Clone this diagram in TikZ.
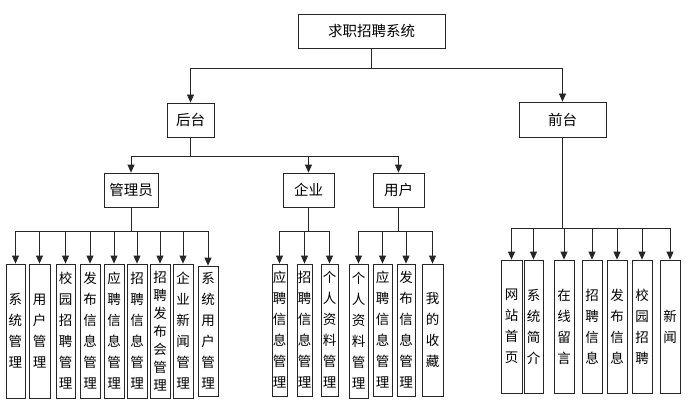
\documentclass[tikz,border=0pt]{standalone}
\usepackage{fontspec}
\newfontfamily\cjk{Noto Sans CJK SC}
\usetikzlibrary{arrows.meta}
\begin{document}
\begin{tikzpicture}[x=1pt,y=-1pt,
 box/.style={draw=black!85, line width=0.8pt, inner sep=0pt, font=\cjk\fontsize{14.5}{18}\selectfont},
 leaf/.style={draw=black!85, line width=0.8pt, inner sep=0pt, align=center, font=\cjk\fontsize{13.5}{21}\selectfont},
 tight/.style={font=\cjk\fontsize{13.5}{18}\selectfont},
 arr/.style={draw=black!85, line width=0.8pt, -{Triangle[length=8pt,width=7pt]}},
]
\useasboundingbox[fill=white] (0,0) rectangle (689,412);
% top levels
\node[box, minimum width=147pt, minimum height=34pt] (root) at (371.5,31) {求职招聘系统};
\node[box, minimum width=47pt, minimum height=34pt] (hou) at (190.5,120) {后台};
\node[box, minimum width=87pt, minimum height=35pt] (qian) at (562.5,119.5) {前台};
\node[box, minimum width=54pt, minimum height=34pt] (admin) at (131,190) {管理员};
\node[box, minimum width=51pt, minimum height=34pt] (ent) at (308.5,190) {企业};
\node[box, minimum width=51pt, minimum height=34pt] (user) at (398.5,190) {用户};
% admin leaves
\node[leaf, minimum width=19pt, minimum height=134pt] (a1) at (15.5,331) {系\\统\\管\\理};
\node[leaf, minimum width=21pt, minimum height=134pt] (a2) at (39.5,331) {用\\户\\管\\理};
\node[leaf, minimum width=19pt, minimum height=134pt] (a3) at (65.5,331) {校\\园\\招\\聘\\管\\理};
\node[leaf, minimum width=20pt, minimum height=134pt] (a4) at (90,331) {发\\布\\信\\息\\管\\理};
\node[leaf, minimum width=20pt, minimum height=134pt] (a5) at (114,331) {应\\聘\\信\\息\\管\\理};
\node[leaf, minimum width=20pt, minimum height=134pt] (a6) at (137,331) {招\\聘\\信\\息\\管\\理};
\node[leaf, tight, minimum width=20pt, minimum height=134pt] (a7) at (160,331) {招\\聘\\发\\布\\会\\管\\理};
\node[leaf, minimum width=20pt, minimum height=134pt] (a8) at (183,331) {企\\业\\新\\闻\\管\\理};
\node[leaf, minimum width=20pt, minimum height=130pt] (a9) at (208,331) {系\\统\\用\\户\\管\\理};
% enterprise leaves
\node[leaf, minimum width=15pt, minimum height=132pt] (e1) at (279.5,330) {应\\聘\\信\\息\\管\\理};
\node[leaf, minimum width=15pt, minimum height=132pt] (e2) at (304.5,330) {招\\聘\\信\\息\\管\\理};
\node[leaf, minimum width=17pt, minimum height=132pt] (e3) at (329.5,330) {个\\人\\资\\料\\管\\理};
% user leaves
\node[leaf, minimum width=19pt, minimum height=134pt] (u1) at (358.5,331) {个\\人\\资\\料\\管\\理};
\node[leaf, minimum width=19pt, minimum height=132pt] (u2) at (382.5,330) {应\\聘\\信\\息\\管\\理};
\node[leaf, minimum width=18pt, minimum height=132pt] (u3) at (406,330) {发\\布\\信\\息\\管\\理};
\node[leaf, minimum width=21pt, minimum height=132pt] (u4) at (432.5,330) {我\\的\\收\\藏};
% front leaves
\node[leaf, minimum width=21pt, minimum height=133pt] (f1) at (511.5,326.5) {网\\站\\首\\页};
\node[leaf, minimum width=19pt, minimum height=133pt] (f2) at (533.5,326.5) {系\\统\\简\\介};
\node[leaf, minimum width=20pt, minimum height=133pt] (f3) at (564,326.5) {在\\线\\留\\言};
\node[leaf, minimum width=20pt, minimum height=133pt] (f4) at (592,326.5) {招\\聘\\信\\息};
\node[leaf, minimum width=20pt, minimum height=133pt] (f5) at (617,326.5) {发\\布\\信\\息};
\node[leaf, minimum width=20pt, minimum height=133pt] (f6) at (642,326.5) {校\\园\\招\\聘};
\node[leaf, minimum width=20pt, minimum height=133pt] (f7) at (670,326.5) {新\\闻};
% connectors
\draw[arr] (root.south) -- ++(0,20) -| (hou.north);
\draw[arr] (root.south) -- ++(0,20) -| (qian.north);
\foreach \t in {admin,ent,user} \draw[arr] (hou.south) -- ++(0,19) -| (\t.north);
\foreach \t in {a1,a2,a3,a4,a5,a6,a7,a8,a9} \draw[arr] (admin.south) -- ++(0,24) -| (\t.north);
\foreach \t in {e1,e2,e3} \draw[arr] (ent.south) -- ++(0,24) -| (\t.north);
\foreach \t in {u1,u2,u3,u4} \draw[arr] (user.south) -- ++(0,24) -| (\t.north);
\foreach \t in {f1,f2,f3,f4,f5,f6,f7} \draw[arr] (qian.south) -- ++(0,91) -| (\t.north);
\end{tikzpicture}
\end{document}
